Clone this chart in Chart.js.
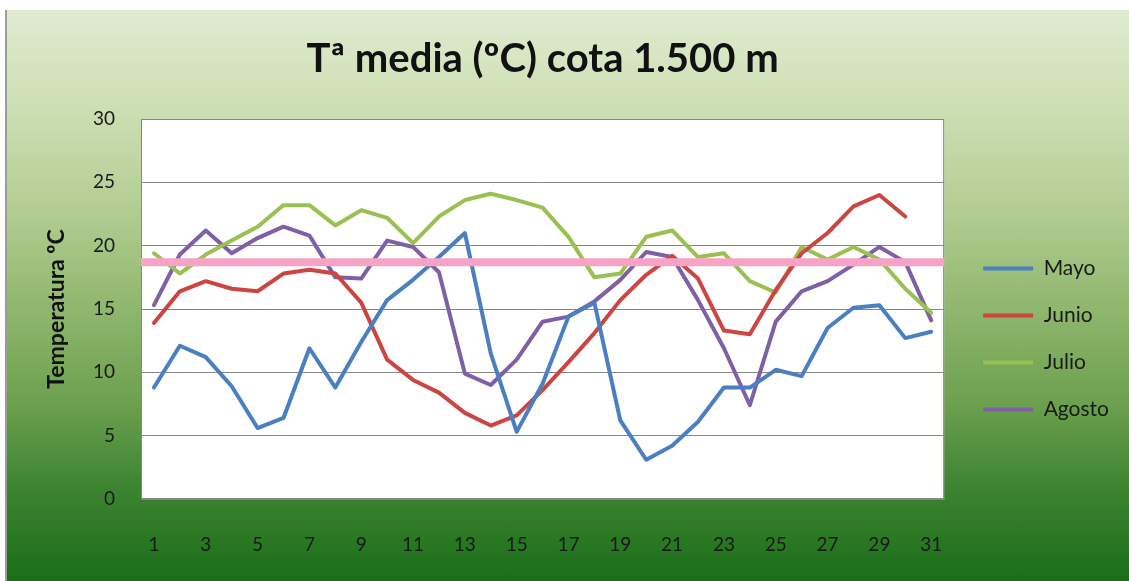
<!DOCTYPE html>
<html>
<head>
<meta charset="utf-8">
<script src="https://cdn.jsdelivr.net/npm/chart.js@4.4.1/dist/chart.umd.min.js"></script>
<style>
  html, body { margin: 0; padding: 0; background: #fff; }
  #box {
    position: absolute; left: 5px; top: 10px; width: 1122px; height: 571px;
    border-left: 2px solid #9a9e98;
    background: linear-gradient(to bottom, #e0ebd0 0%, #cddfb4 17%, #b2cd92 35%, #90b76e 52%, #6ca04e 69%, #3c8330 84%, #1b6e18 100%);
  }
  #chart { display: block; }
</style>
</head>
<body>
<div id="box"><canvas id="chart" width="1122" height="571"></canvas></div>
<script>
// dias del mes
const dias = ['1','2','3','4','5','6','7','8','9','10','11','12','13','14','15','16','17','18','19','20','21','22','23','24','25','26','27','28','29','30','31'];

// temperaturas medias
const mayo = [8.8, 12.1, 11.2, 8.9, 5.6, 6.4, 11.9, 8.8, 12.4, 15.7, 17.3, 19.1, 21.0, 11.5, 5.3, 9.1, 14.4, 15.5, 6.2, 3.1, 4.2, 6.1, 8.8, 8.8, 10.2, 9.7, 13.5, 15.1, 15.3, 12.7, 13.2];
const junio = [13.9, 16.4, 17.2, 16.6, 16.4, 17.8, 18.1, 17.8, 15.5, 11.0, 9.4, 8.4, 6.8, 5.8, 6.6, 8.6, 10.8, 13.1, 15.7, 17.7, 19.2, 17.4, 13.3, 13.0, 16.5, 19.4, 21.0, 23.1, 24.0, 22.3, null];
const julio = [19.4, 17.8, 19.3, 20.4, 21.5, 23.2, 23.2, 21.6, 22.8, 22.2, 20.2, 22.3, 23.6, 24.1, 23.6, 23.0, 20.7, 17.5, 17.8, 20.7, 21.2, 19.1, 19.4, 17.2, 16.3, 19.9, 18.9, 19.9, 18.9, 16.6, 14.7];
const agosto = [15.3, 19.3, 21.2, 19.4, 20.6, 21.5, 20.8, 17.5, 17.4, 20.4, 19.9, 17.9, 9.9, 9.0, 11.0, 14.0, 14.4, 15.6, 17.3, 19.5, 19.1, 15.7, 11.9, 7.4, 14.0, 16.4, 17.2, 18.5, 19.9, 18.7, 14.1];

// media de referencia (linea rosa)
const mediaRef = 18.7;

const ejeY = { min: 0, max: 30, paso: 5 };

// fondo blanco y marco del area de trazado
const marcoPlot = {
    id: 'marcoPlot',
    beforeDraw(chart) {
        const a = chart.chartArea;
        const ctx = chart.ctx;
        ctx.save();
        ctx.fillStyle = '#ffffff';
        ctx.fillRect(a.left, a.top, a.right - a.left, a.bottom - a.top);
        ctx.strokeStyle = '#868686';
        ctx.lineWidth = 1;
        ctx.strokeRect(a.left + 0.5, a.top + 0.5, a.right - a.left - 1, a.bottom - a.top - 1);
        ctx.restore();
    }
};

// linea horizontal de la media
const lineaMedia = {
    id: 'lineaMedia',
    afterDatasetsDraw(chart) {
        const a = chart.chartArea;
        const y = chart.scales.y.getPixelForValue(mediaRef);
        const ctx = chart.ctx;
        ctx.save();
        ctx.strokeStyle = '#f7a3c6';
        ctx.lineWidth = 8;
        ctx.beginPath();
        ctx.moveTo(a.left, y);
        ctx.lineTo(a.right, y);
        ctx.stroke();
        ctx.restore();
    }
};

function serie(nombre, datos, color) {
    return {
        label: nombre,
        data: datos,
        borderColor: color,
        backgroundColor: color,
        borderWidth: 4,
        borderJoinStyle: 'round',
        borderCapStyle: 'round',
        pointRadius: 0,
        tension: 0,
        spanGaps: false
    };
}

const fuente = 'Lato, "Open Sans", sans-serif';

new Chart(document.getElementById('chart'), {
    type: 'line',
    data: {
        labels: dias,
        datasets: [
            serie('Mayo', mayo, '#4a7fc1'),
            serie('Junio', junio, '#cc4541'),
            serie('Julio', julio, '#99c050'),
            serie('Agosto', agosto, '#7e60a6')
        ]
    },
    options: {
        responsive: false,
        animation: false,
        layout: { padding: { left: 0, right: 10, top: 0, bottom: 0 } },
        plugins: {
            title: {
                display: true,
                text: 'Tª media (ºC) cota 1.500 m',
                fullSize: false,
                color: '#111',
                font: { family: fuente, size: 40, weight: 'bold', lineHeight: 1.2 },
                padding: { top: 25, bottom: 36 }
            },
            legend: {
                position: 'right',
                align: 'start',
                fullSize: false,
                title: {
                    display: true,
                    text: ' ',
                    font: { size: 10, lineHeight: 1.2 },
                    padding: { top: 101, bottom: 0 }
                },
                labels: {
                    usePointStyle: true,
                    pointStyle: 'line',
                    pointStyleWidth: 50,
                    padding: 26,
                    color: '#1a1a1a',
                    font: { family: fuente, size: 21 }
                }
            },
            tooltip: { enabled: false }
        },
        scales: {
            x: {
                offset: true,
                grid: { display: false, drawTicks: false, tickLength: 0 },
                border: { display: true, color: '#868686' },
                ticks: {
                    autoSkip: false,
                    maxRotation: 0,
                    padding: 34,
                    color: '#1a1a1a',
                    font: { family: fuente, size: 19 },
                    callback: (v, i) => (i % 2 === 0 ? dias[i] : '')
                },
                afterFit: (s) => { s.height = 82; }
            },
            y: {
                min: ejeY.min,
                max: ejeY.max,
                grid: { color: '#868686', drawTicks: false, tickLength: 0 },
                border: { display: true, color: '#868686' },
                ticks: {
                    stepSize: ejeY.paso,
                    padding: 26,
                    color: '#1a1a1a',
                    font: { family: fuente, size: 19 }
                },
                title: {
                    display: true,
                    text: 'Temperatura ºC',
                    color: '#111',
                    font: { family: fuente, size: 23, weight: 'bold', lineHeight: 1.2 },
                    padding: { top: 36, bottom: 0 }
                },
                afterFit: (s) => { s.width = 134; }
            },
            hueco: {
                type: 'linear',
                position: 'right',
                display: true,
                grid: { display: false },
                border: { display: false },
                ticks: { display: false },
                afterFit: (s) => { s.width = 13; }
            }
        }
    },
    plugins: [marcoPlot, lineaMedia]
});
</script>
</body>
</html>
